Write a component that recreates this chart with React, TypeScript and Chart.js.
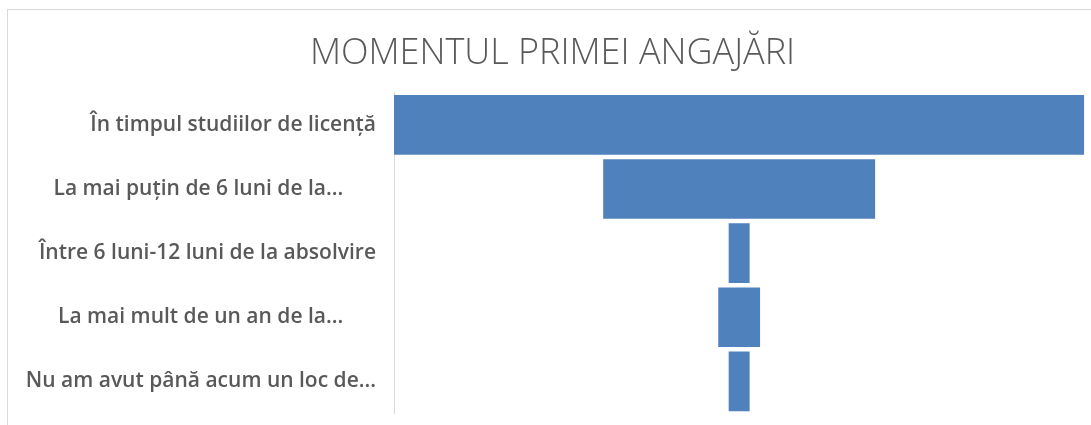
import React, { useEffect, useRef } from "react";
import { Chart, registerables } from "chart.js";

Chart.register(...registerables);

const title = "MOMENTUL PRIMEI ANGAJĂRI";
const categories = [
  "În timpul studiilor de licență",
  "La mai puțin de 6 luni de la...      ",
  "Între 6 luni-12 luni de la absolvire",
  "La mai mult de un an de la...      ",
  "Nu am avut până acum un loc de...",
];
const values = [33, 13, 1, 2, 1];

export default function App() {
  const ref = useRef<HTMLCanvasElement | null>(null);

  useEffect(() => {
    if (!ref.current) return;
    const maxV = Math.max(...values);
    const floating = values.map((v) => [-v / 2, v / 2]);
    const chart = new Chart(ref.current, {
      type: "bar",
      data: {
        labels: categories,
        datasets: [
          {
            data: floating as any,
            backgroundColor: "#4f81bd",
            borderWidth: 0,
            borderSkipped: false,
            barPercentage: 0.93,
            categoryPercentage: 1,
          },
        ],
      },
      options: {
        indexAxis: "y",
        animation: false,
        responsive: true,
        maintainAspectRatio: false,
        layout: { padding: { left: 12.7, right: 6.7, top: 0, bottom: 11.5 } },
        plugins: {
          legend: { display: false },
          tooltip: { enabled: false },
          title: {
            display: true,
            text: title,
            color: "#595959",
            font: { family: "'Open Sans'", size: 36, weight: 300 },
            padding: { top: 22.4, bottom: 17.2 },
          },
        },
        scales: {
          x: {
            display: false,
            min: -maxV / 2,
            max: maxV / 2,
          },
          y: {
            grid: { display: false, drawTicks: false },
            border: { display: true, color: "#d9d9d9", width: 1 },
            ticks: {
              color: "#595959",
              padding: 18,
              font: { family: "'Open Sans'", size: 21, weight: 600 },
            },
            afterFit: (scale: any) => {
              scale.width = 373.3;
              scale.paddingTop = 0;
              scale.paddingBottom = 0;
            },
          },
        },
      },
    });
    return () => chart.destroy();
  }, []);

  return (
    <div
      style={{
        position: "fixed",
        left: 7,
        top: 9,
        width: 1084,
        height: 416,
        borderTop: "1px solid #d9d9d9",
        borderLeft: "1px solid #d9d9d9",
        background: "#fff",
      }}
    >
      <div style={{ position: "relative", width: 1083, height: 415 }}>
        <canvas ref={ref} />
      </div>
    </div>
  );
}
